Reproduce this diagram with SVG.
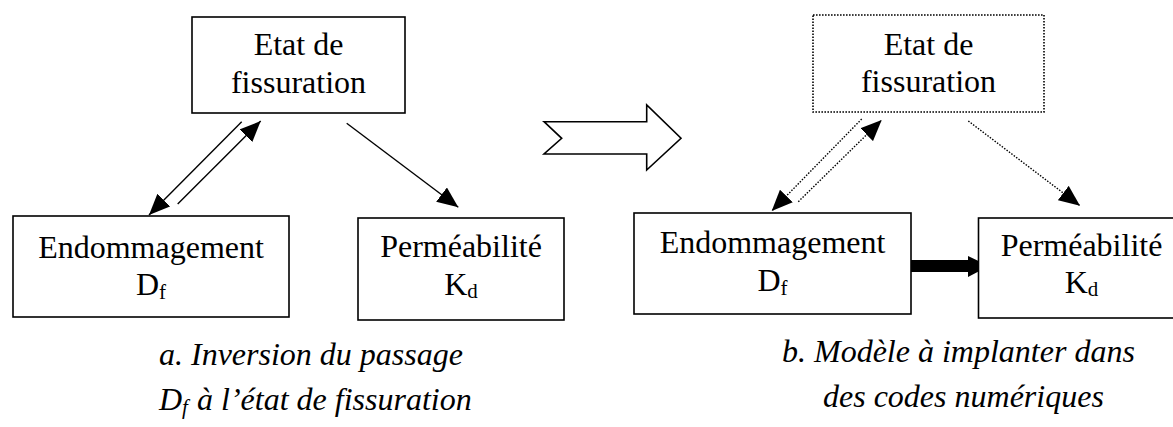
<svg xmlns="http://www.w3.org/2000/svg" width="1173" height="427" viewBox="0 0 1173 427">
<style>
text{font-family:"Liberation Serif","Times New Roman",serif;font-size:32px;fill:#000}
.c{text-anchor:middle}
.cap{font-style:italic}
.sub{font-size:21px}
.box{fill:#fff;stroke:#000;stroke-width:1.6}
.dbox{fill:#fff;stroke:#000;stroke-width:1.6;stroke-dasharray:1.6 1.4}
.ln{stroke:#000;stroke-width:1.4;fill:none}
.dl{stroke:#000;stroke-width:1.4;fill:none;stroke-dasharray:1.5 1.5}
</style>
<defs>
<marker id="ah" markerUnits="userSpaceOnUse" markerWidth="22" markerHeight="18" refX="21" refY="9" orient="auto" viewBox="0 0 22 18">
<path d="M0,0 L21,9 L0,18 z" fill="#000"/>
</marker>
</defs>
<g id="connectors">
<line class="ln" x1="241.7" y1="121.7" x2="149" y2="215" marker-end="url(#ah)"/>
<line class="ln" x1="177.7" y1="204" x2="260.7" y2="121" marker-end="url(#ah)"/>
<line class="ln" x1="346.7" y1="123.3" x2="458.3" y2="207.3" marker-end="url(#ah)"/>
<line class="dl" x1="861.7" y1="119" x2="771.7" y2="211" marker-end="url(#ah)"/>
<line class="dl" x1="798.3" y1="201.7" x2="881.7" y2="120" marker-end="url(#ah)"/>
<line class="dl" x1="968.3" y1="121" x2="1080" y2="205.7" marker-end="url(#ah)"/>
<polygon points="911,260 968,260 968,256 989,266 968,277 968,272 911,272" fill="#000"/>
<polygon points="544,121.7 561.7,138.3 544,154 646.7,154 646.7,170 681,138.3 646.7,105 646.7,121.7" fill="#fff" stroke="#000" stroke-width="1.6" stroke-linejoin="miter"/>
</g>
<g id="etat-a">
<rect class="box" x="192" y="17" width="213" height="96"/>
<text class="c" x="298.5" y="55">Etat de</text>
<text class="c" x="298.5" y="93">fissuration</text>
</g>
<g id="endo-a">
<rect class="box" x="13" y="216" width="276" height="101"/>
<text class="c" x="151" y="258">Endommagement</text>
<text class="c" x="151" y="295">D<tspan class="sub" dy="4">f</tspan></text>
</g>
<g id="perm-a">
<rect class="box" x="358" y="218" width="206" height="102"/>
<text class="c" x="461" y="257">Perméabilité</text>
<text class="c" x="461" y="295">K<tspan class="sub" dy="3">d</tspan></text>
</g>
<g id="etat-b">
<rect class="dbox" x="813" y="15" width="231" height="97"/>
<text class="c" x="928.5" y="55">Etat de</text>
<text class="c" x="928.5" y="92">fissuration</text>
</g>
<g id="endo-b">
<rect class="box" x="634" y="213" width="277" height="101"/>
<text class="c" x="772.5" y="253">Endommagement</text>
<text class="c" x="772.5" y="291">D<tspan class="sub" dy="4">f</tspan></text>
</g>
<g id="perm-b">
<rect class="box" x="978.5" y="218" width="210" height="100"/>
<text class="c" x="1081.5" y="256">Perméabilité</text>
<text class="c" x="1081.5" y="293">K<tspan class="sub" dy="3">d</tspan></text>
</g>
<g id="caption-a">
<text class="cap" x="159" y="365">a. Inversion du passage</text>
<text class="cap" x="159" y="410">D<tspan class="sub" dy="4">f</tspan><tspan x="197" dy="-4">à l’état de fissuration</tspan></text>
</g>
<g id="caption-b">
<text class="cap" x="782" y="362">b. Modèle à implanter dans</text>
<text class="cap" x="823" y="407">des codes numériques</text>
</g>
</svg>
